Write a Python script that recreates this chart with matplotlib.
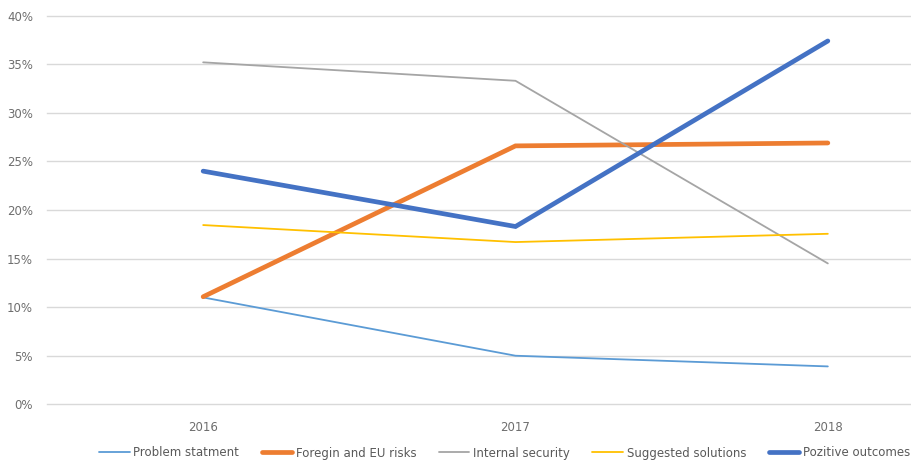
import matplotlib
matplotlib.use("Agg")
import matplotlib.pyplot as plt
from matplotlib.ticker import FuncFormatter

plt.rcParams['font.family'] = ['DejaVu Sans']

years = ["2016", "2017", "2018"]
problem_statement = [11.0, 5.0, 3.9]
foreign_eu_risks = [11.07, 26.6, 26.9]
internal_security = [35.2, 33.3, 14.5]
suggested_solutions = [18.45, 16.7, 17.55]
positive_outcomes = [24.0, 18.3, 37.4]
y_ticks = [0, 5, 10, 15, 20, 25, 30, 35, 40]

series = [
    ("Problem statment", problem_statement, "#5B9BD5", 1.3),
    ("Foregin and EU risks", foreign_eu_risks, "#ED7D31", 3.4),
    ("Internal security", internal_security, "#A5A5A5", 1.3),
    ("Suggested solutions", suggested_solutions, "#FFC000", 1.3),
    ("Pozitive outcomes", positive_outcomes, "#4472C4", 3.4),
]

fig = plt.figure(figsize=(9.12, 4.63), dpi=100)
ax = fig.add_axes([47/912, 58.7/463, (984-47)/912, (404.3-15.7)/463])

x = list(range(len(years)))
for name, vals, col, lw in series:
    ax.plot(x, vals, color=col, lw=lw, label=name, solid_capstyle='round', solid_joinstyle='miter')

ax.set_xlim(-0.5, len(years) - 0.5)
ax.set_ylim(0, 40)
ax.set_yticks(y_ticks)
ax.yaxis.set_major_formatter(FuncFormatter(lambda v, p: f"{int(v)}%"))
ax.set_xticks(x)
ax.set_xticklabels(years)
ax.grid(axis='y', color='#D9D9D9', lw=1.0)
for gl in ax.get_ygridlines():
    gl.set_clip_on(False)
ax.set_axisbelow(True)
for s in ax.spines.values():
    s.set_visible(False)
ax.tick_params(axis='both', length=0, colors='#6E6E6E', labelsize=8.5)
ax.tick_params(axis='x', pad=12)
ax.tick_params(axis='y', pad=10)

fig.legend(loc='center right', bbox_to_anchor=(910/912, 10/463), ncol=5, frameon=False,
           fontsize=8.5, handlelength=2.6, columnspacing=1.9, handletextpad=0.3,
           labelcolor='#595959', borderaxespad=0, borderpad=0)

fig.savefig("out.png", dpi=100)
